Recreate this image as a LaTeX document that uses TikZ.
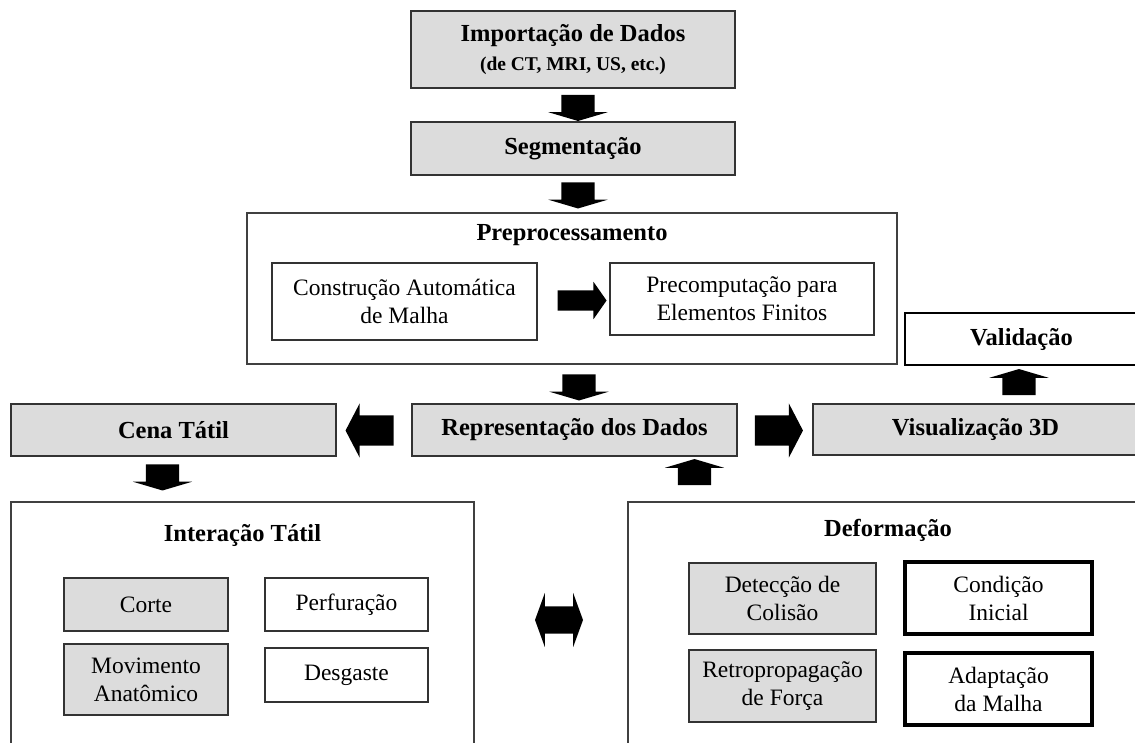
\documentclass[tikz,border=0pt]{standalone}
\usepackage{fontspec}
\setmainfont{Liberation Serif}
\usetikzlibrary{shapes.arrows}
\definecolor{boxgray}{HTML}{DCDCDC}
\newcommand{\titlefont}{\fontsize{24.5}{30}\selectfont\bfseries}
\newcommand{\boxfont}{\fontsize{23.5}{28}\selectfont}
\begin{document}
\begin{tikzpicture}[x=1pt, y=-1pt,
	  graybox/.style={draw=black!80, line width=1.6pt, fill=boxgray, inner sep=0pt, align=center},
	  whitebox/.style={draw=black!80, line width=1.6pt, fill=white, inner sep=0pt, align=center},
	  heavybox/.style={draw=black, line width=3.6pt, fill=white, inner sep=0pt, align=center},
	  frame/.style={draw=black!75, line width=1.5pt, inner sep=0pt},
	  downarrow/.style={single arrow, fill=black, inner xsep=16.5pt, inner ysep=0pt, shape border rotate=270, minimum height=26pt, minimum width=59pt, single arrow head extend=13pt, single arrow tip angle=147},
	  uparrow/.style={downarrow, shape border rotate=90},
	  sidearrow/.style={single arrow, fill=black, inner xsep=0pt, inner ysep=15pt, minimum height=48pt, minimum width=54pt, single arrow head extend=12pt, single arrow tip angle=125}]
	  \useasboundingbox (0,0) rectangle (1135,742);
	  \clip (0,0) rectangle (1135,742);
	  % top chain
	  \node[graybox, minimum width=324pt, minimum height=77pt] (import) at (573,49.5) {{\titlefont Importação de Dados}\\[10pt]{\fontsize{19.5}{23}\selectfont\bfseries (de CT, MRI, US, etc.)}};
	  \node[graybox, minimum width=324pt, minimum height=53pt, font=\titlefont] (segment) at (573,148.5) {Segmentação};
	  \node[frame, minimum width=650pt, minimum height=151pt] (preproc) at (572,288.5) {};
	  \node[font=\titlefont] (preproctitle) at (572,235) {Preprocessamento};
	  \node[whitebox, minimum width=265pt, minimum height=77pt, font=\boxfont] (mesh) at (404.5,301.5) {Construção Automática\\de Malha};
	  \node[whitebox, minimum width=264pt, minimum height=72pt, font=\boxfont] (precomp) at (742,299) {Precomputação para\\Elementos Finitos};
	  % middle row
	  \node[graybox, minimum width=325pt, minimum height=52pt, font=\titlefont] (cena) at (173.5,430) {Cena Tátil};
	  \node[graybox, minimum width=325pt, minimum height=52pt, font=\titlefont] (repr) at (574.5,430) {Representação dos Dados};
	  \node[graybox, minimum width=325pt, minimum height=51pt, font=\titlefont] (visual) at (975.5,429.5) {Visualização 3D};
	  \node[heavybox, line width=2.8pt, minimum width=233pt, minimum height=52pt, font=\titlefont] (valid) at (1021.5,339) {Validação};
	  % bottom frames
	  \node[frame, minimum width=463pt, minimum height=268pt] (haptic) at (242.5,636) {};
	  \node[font=\titlefont] (haptictitle) at (242.5,535) {Interação Tátil};
	  \node[graybox, minimum width=164pt, minimum height=53pt, font=\boxfont] (corte) at (146,604.5) {Corte};
	  \node[whitebox, minimum width=163pt, minimum height=53pt, font=\boxfont] (perf) at (346.5,604.5) {Perfuração};
	  \node[graybox, minimum width=164pt, minimum height=71pt, font=\boxfont] (movim) at (146,679.5) {Movimento\\Anatômico};
	  \node[whitebox, minimum width=163pt, minimum height=54pt, font=\boxfont] (desg) at (346.5,675) {Desgaste};
	  \node[frame, minimum width=522pt, minimum height=268pt] (deform) at (889,636) {};
	  \node[font=\titlefont] (deformtitle) at (888,530) {Deformação};
	  \node[graybox, minimum width=187pt, minimum height=71pt, font=\boxfont] (colis) at (782.5,598.5) {Detecção de\\Colisão};
	  \node[heavybox, minimum width=187pt, minimum height=72pt, font=\boxfont] (cond) at (998.5,598) {Condição\\Inicial};
	  \node[graybox, minimum width=187pt, minimum height=72pt, font=\boxfont] (retro) at (782.5,686) {Retropropagação\\de Força};
	  \node[heavybox, minimum width=187pt, minimum height=72pt, font=\boxfont] (adapt) at (998.5,689) {Adaptação\\da Malha};
	  % block arrows
	  \node[downarrow] (a1) at (578,105.5) {};
	  \node[downarrow] (a2) at (578,193) {};
	  \node[single arrow, fill=black, inner xsep=0pt, inner ysep=10pt, minimum height=49pt, minimum width=37pt, single arrow head extend=8.5pt, single arrow tip angle=110] (a3) at (578.5,300.5) {};
	  \node[downarrow] (a4) at (579,385) {};
	  \node[sidearrow, shape border rotate=180] (a5) at (373.5,430.5) {};
	  \node[sidearrow] (a6) at (775,430.5) {};
	  \node[uparrow] (a7) at (1019,384.5) {};
	  \node[downarrow] (a8) at (162.5,475) {};
	  \node[uparrow] (a9) at (694.5,474.5) {};
	  \node[double arrow, fill=black, inner xsep=0pt, inner ysep=13.5pt, minimum height=48pt, minimum width=54pt, double arrow head extend=13.5pt, double arrow tip angle=140] (a10) at (559,620) {};
	\end{tikzpicture}
\end{document}
